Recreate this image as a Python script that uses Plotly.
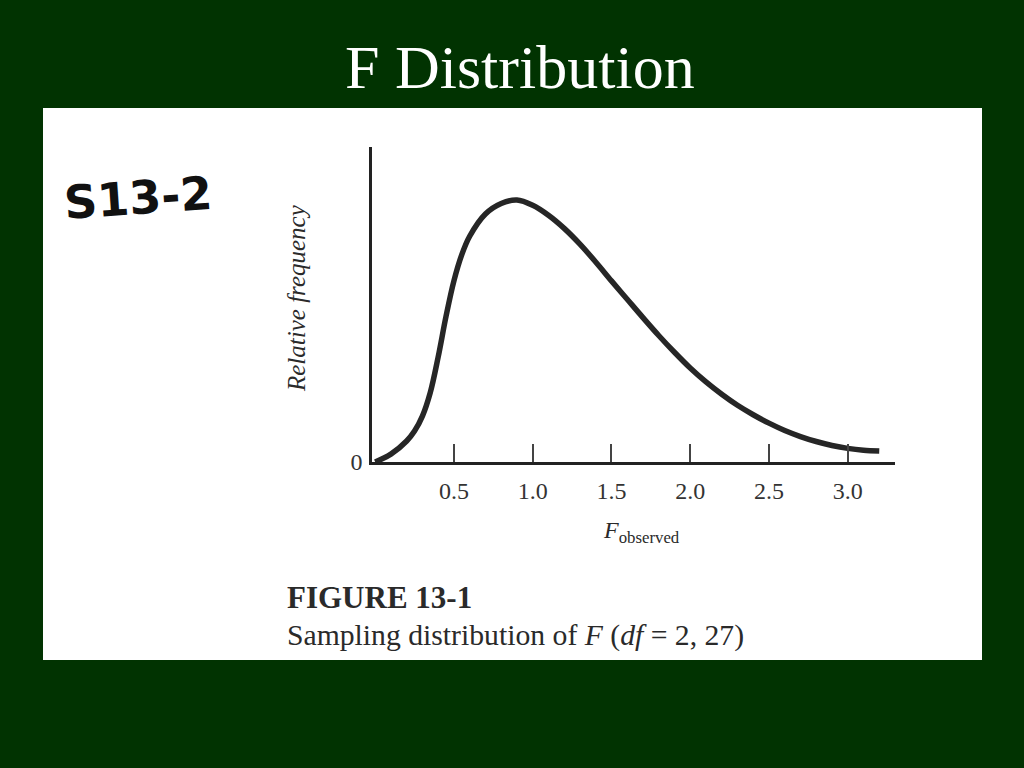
import plotly.graph_objects as go

# ---- data ----
f_observed = [0.0, 0.1, 0.2, 0.25, 0.3, 0.35, 0.4, 0.45, 0.5, 0.55, 0.6, 0.7, 0.8, 0.9,
              1.0, 1.1, 1.2, 1.3, 1.4, 1.5, 1.6, 1.7, 1.8, 1.9, 2.0, 2.1, 2.2, 2.3,
              2.4, 2.5, 2.6, 2.7, 2.8, 2.9, 3.0, 3.1, 3.2]
relative_frequency = [0.0, 0.03, 0.08, 0.118, 0.175, 0.265, 0.40, 0.555, 0.69, 0.79, 0.86,
                      0.945, 0.985, 0.998, 0.978, 0.94, 0.89, 0.83, 0.762, 0.69, 0.62,
                      0.55, 0.482, 0.418, 0.358, 0.305, 0.258, 0.216, 0.18, 0.148, 0.12,
                      0.097, 0.078, 0.063, 0.052, 0.045, 0.042]
x_tick_values = [0.5, 1.0, 1.5, 2.0, 2.5, 3.0]
x_tick_labels = ["0.5", "1.0", "1.5", "2.0", "2.5", "3.0"]
y_tick_values = [0]
y_tick_labels = ["0"]

# ---- page geometry ----
W, H = 1024, 768
L, R, T, B = 372, 129, 147, 306
PW, PH = W - L - R, H - T - B


def px(x):
    return (x - L) / PW


def py(y):
    return (H - B - y) / PH


SERIF = "Liberation Serif, Times New Roman, serif"
INK = "#2a2a2a"

fig = go.Figure()
fig.add_trace(go.Scatter(
    x=f_observed, y=relative_frequency, mode="lines",
    line=dict(color="#262626", width=5.5, shape="spline", smoothing=1.0),
    hoverinfo="skip", showlegend=False))

fig.update_layout(
    width=W, height=H,
    margin=dict(l=L, r=R, t=T, b=B, pad=0),
    paper_bgcolor="#013301",
    plot_bgcolor="white",
    showlegend=False,
    xaxis=dict(range=[-0.02, 3.3], showgrid=False, zeroline=False,
               showline=True, linecolor="#222", linewidth=2.5,
               ticks="inside", ticklen=18, tickwidth=1.5, tickcolor="#444",
               tickvals=x_tick_values, ticktext=x_tick_labels,
               tickfont=dict(family=SERIF, size=24, color="#333"),
               ticklabelstandoff=5, fixedrange=True),
    yaxis=dict(range=[0, 1.2], showgrid=False, zeroline=False,
               showline=True, linecolor="#222", linewidth=2.5,
               ticks="", tickvals=y_tick_values, ticktext=y_tick_labels,
               tickfont=dict(family=SERIF, size=24, color="#333"),
               ticklabelstandoff=2, fixedrange=True),
    shapes=[dict(type="rect", xref="paper", yref="paper",
                 x0=px(43), x1=px(982), y0=py(660), y1=py(108),
                 fillcolor="white", line=dict(width=0), layer="below")],
)

annotations = [
    dict(text="F Distribution", x=px(520), y=py(67), xanchor="center", yanchor="middle",
         font=dict(family=SERIF, size=62, color="white")),
    dict(text="S13-2", x=px(138), y=py(198), xanchor="center", yanchor="middle",
         textangle=-4, font=dict(family="DejaVu Sans", size=46, color="#111", weight="bold")),
    dict(text="<i>Relative frequency</i>", x=px(296), y=py(298), textangle=-90,
         xanchor="center", yanchor="middle", font=dict(family=SERIF, size=25, color=INK)),
    dict(text="<i>F</i><sub>observed</sub>", x=px(641), y=py(532),
         xanchor="center", yanchor="middle", font=dict(family=SERIF, size=24, color=INK)),
    dict(text="<b>FIGURE 13-1</b>", x=px(285), y=py(597), xanchor="left", yanchor="middle",
         font=dict(family=SERIF, size=31, color=INK)),
    dict(text="Sampling distribution of <i>F</i> (<i>df</i> = 2, 27)", x=px(285), y=py(635),
         xanchor="left", yanchor="middle", font=dict(family=SERIF, size=29.7, color=INK)),
]
for a in annotations:
    a.update(xref="paper", yref="paper", showarrow=False)
    fig.add_annotation(**a)

fig.write_html("out.html", config={"displayModeBar": False},
               post_script="document.body.style.margin='0';document.body.style.overflow='hidden';")
